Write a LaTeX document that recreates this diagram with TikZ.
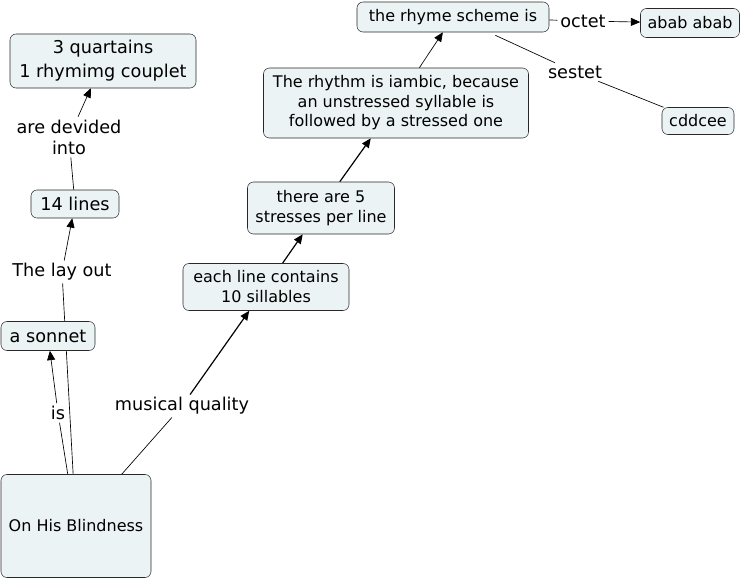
\documentclass[tikz,border=0pt]{standalone}
\usepackage{fontspec}
\setmainfont{DejaVu Sans}
\usetikzlibrary{arrows.meta,backgrounds}
\definecolor{cfill}{RGB}{236,243,245}
\definecolor{cline}{RGB}{40,40,40}
\tikzset{
	concept/.style={draw=cline, fill=cfill, rounded corners=4.5pt, align=center, inner sep=0pt, font=\fontsize{12}{15}\selectfont},
	bigconcept/.style={concept, font=\fontsize{13.25}{18}\selectfont},
	phrase/.style={align=center, inner sep=2pt, font=\fontsize{13.25}{15.75}\selectfont},
	link/.style={draw=black, line width=0.5pt},
	linkto/.style={link, -{Triangle[length=7pt,width=6pt]}}
}
\begin{document}
\begin{tikzpicture}[x=0.75pt, y=-0.75pt]
	\useasboundingbox (0,0) rectangle (743,579);
	\node[bigconcept, minimum width=139.5pt, minimum height=40.5pt] (quart) at (103,61) {3 quartains\\1 rhymimg couplet};
	\node[phrase] (divided) at (69,137) {are devided\\into};
	\node[bigconcept, minimum width=66pt, minimum height=21pt] (lines) at (75,204) {14 lines};
	\node[phrase] (layout) at (62,272) {The lay out};
	\node[bigconcept, minimum width=70.5pt, minimum height=21.75pt] (sonnet) at (48,336) {a sonnet};
	\node[phrase] (is) at (58,413) {is};
	\node[concept, minimum width=112.5pt, minimum height=77.25pt] (ohb) at (76,526) {On His Blindness};
	\node[phrase] (musical) at (182,406) {musical quality};
	\node[concept, minimum width=124.5pt, minimum height=35.25pt] (sill) at (266,287) {each line contains\\10 sillables};
	\node[concept, minimum width=110.25pt, minimum height=39pt] (stress) at (321,208) {there are 5\\stresses per line};
	\node[concept, minimum width=198.75pt, minimum height=52.5pt, font=\fontsize{12}{14.6}\selectfont] (rhythm) at (396,103) {The rhythm is iambic, because\\an unstressed syllable is\\followed by a stressed one};
	\node[concept, minimum width=144pt, minimum height=22.5pt] (scheme) at (453,17) {the rhyme scheme is};
	\node[phrase] (octet) at (583,21) {octet};
	\node[concept, minimum width=74.25pt, minimum height=21.75pt] (abab) at (690,23) {abab abab};
	\node[phrase] (sestet) at (575,72) {sestet};
	\node[concept, minimum width=54pt, minimum height=20.25pt] (cdd) at (698,121) {cddcee};
	\begin{scope}[on background layer]
	 \draw[link] (ohb) -- (is);
	 \draw[linkto] (is) -- (sonnet);
	 \draw[link] (ohb) -- (layout);
	 \draw[linkto] (layout) -- (lines);
	 \draw[link] (lines) -- (divided);
	 \draw[linkto] (divided) -- (quart);
	 \draw[link] (ohb) -- (musical);
	 \draw[linkto, line width=0.9pt] (musical) -- (sill);
	 \draw[linkto, line width=0.9pt] (sill) -- (stress);
	 \draw[linkto, line width=0.9pt] (stress) -- (rhythm);
	 \draw[linkto] (rhythm) -- (scheme);
	 \draw[link] (scheme) -- (octet);
	 \draw[linkto] (octet) -- (abab);
	 \draw[link] (scheme.south east) ++(-54,3) coordinate (sch) (sch) -- (sestet);
	 \draw[link] (sestet) -- (cdd);
	\end{scope}
\end{tikzpicture}
\end{document}
